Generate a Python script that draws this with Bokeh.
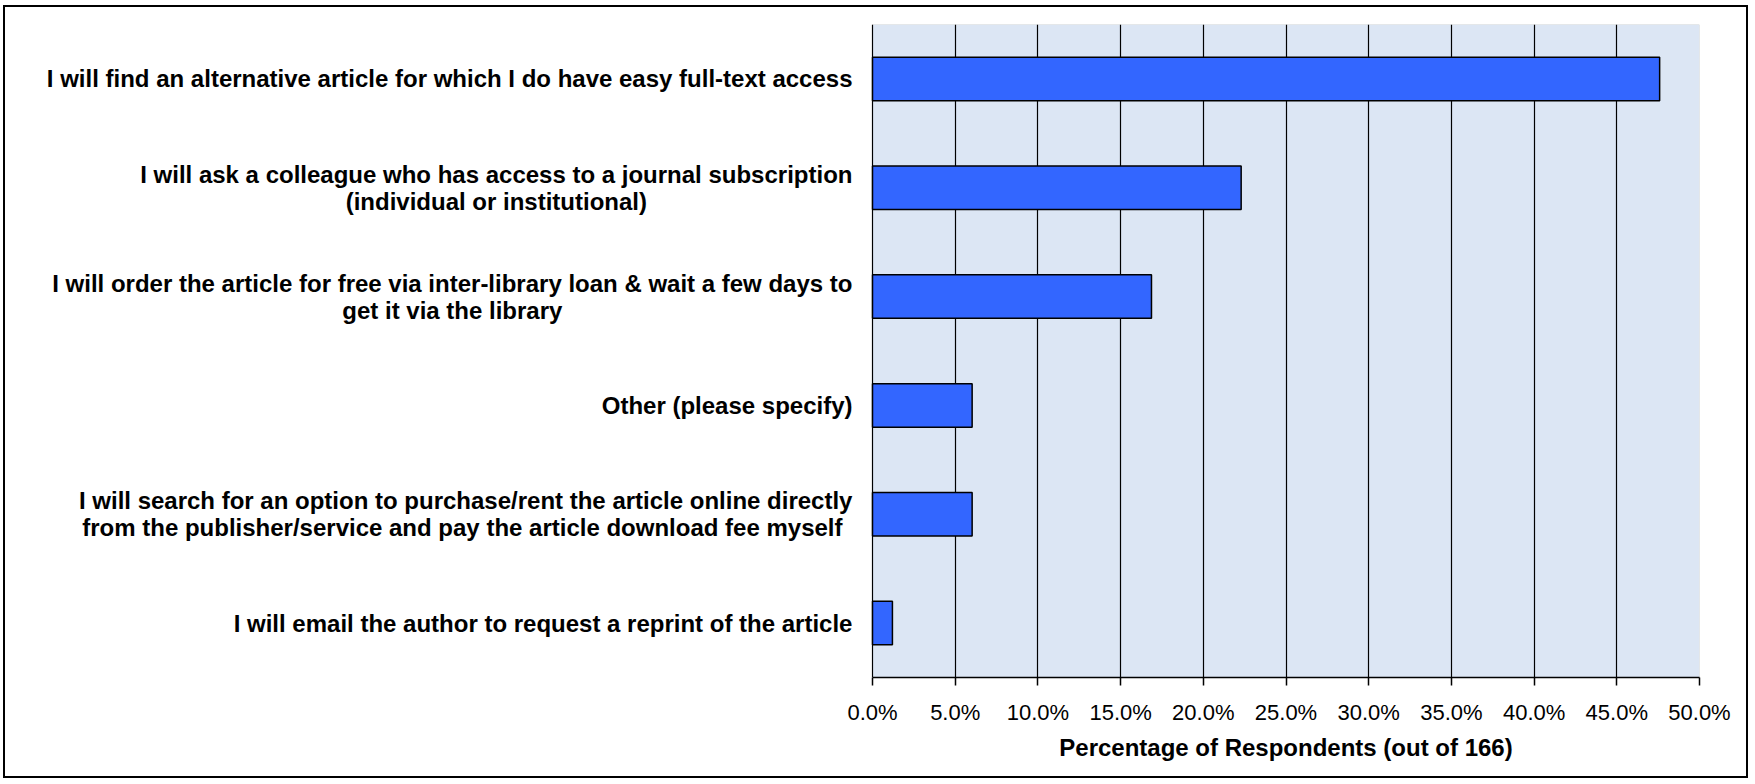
from bokeh.plotting import figure
from bokeh.layouts import column
from bokeh.models import (FactorRange, Range1d, FixedTicker, ColumnDataSource,
                          BoxAnnotation, Title)
from bokeh.core.properties import value
from bokeh.embed import file_html
from bokeh.resources import INLINE

# ---- data (top to bottom as shown) ----
categories = [
    "I will find an alternative article for which I do have easy full-text access",
    "I will ask a colleague who has access to a journal subscription\n(individual or institutional)",
    "I will order the article for free via inter-library loan & wait a few days to\nget it via the library",
    "Other (please specify)",
    "I will search for an option to purchase/rent the article online directly\nfrom the publisher/service and pay the article download fee myself ",
    "I will email the author to request a reprint of the article",
]
counts = [79, 37, 28, 10, 10, 2]
total_respondents = 166
percent = [100.0 * c / total_respondents for c in counts]

x_ticks = [0, 5, 10, 15, 20, 25, 30, 35, 40, 45, 50]
x_tick_labels = ["0.0%", "5.0%", "10.0%", "15.0%", "20.0%", "25.0%",
                 "30.0%", "35.0%", "40.0%", "45.0%", "50.0%"]
x_title = "Percentage of Respondents (out of 166)"
x_max = 50

FONT = "Liberation Sans"
CAT_FONT_PX = 24
TITLE_FONT_PX = 24
LABEL_STANDOFF = 20

# layout (pixels inside the bordered chart area)
FIG_W, FIG_H = 1741, 769
FRAME_LEFT = 5          # canvas x where the frame starts (labels live inside it)
PLOT_LEFT = 867         # canvas x of the 0% line
PLOT_RIGHT = 1694       # canvas x of the 50% line
PLOT_TOP, PLOT_BOTTOM = 17, 670

# advance widths (1/1000 em) of Arial/Liberation Sans Bold, to centre texts
_W = {" ": 278, "!": 333, "&": 722, "(": 333, ")": 333, "-": 333, ".": 278, "/": 278,
      "0": 556, "1": 556, "2": 556, "3": 556, "4": 556, "5": 556, "6": 556,
      "7": 556, "8": 556, "9": 556,
      "a": 556, "b": 611, "c": 556, "d": 611, "e": 556, "f": 333, "g": 611, "h": 611,
      "i": 278, "j": 278, "k": 556, "l": 278, "m": 889, "n": 611, "o": 611, "p": 611,
      "q": 611, "r": 389, "s": 556, "t": 333, "u": 611, "v": 556, "w": 778, "x": 556,
      "y": 556, "z": 500, "I": 278, "O": 778, "P": 667, "R": 722}


def text_width(s, px):
    return sum(_W.get(ch, 556) for ch in s) * px / 1000.0


block_w = [max(text_width(ln, CAT_FONT_PX) for ln in c.split("\n")) for c in categories]
label_xoff = [-(LABEL_STANDOFF + w / 2.0) for w in block_w]

px_per_unit = (PLOT_RIGHT - PLOT_LEFT) / float(x_max)
x_start = -(PLOT_LEFT - FRAME_LEFT) / px_per_unit

source = ColumnDataSource(dict(cat=categories, pct=percent,
                               lx=[0] * len(categories), lxoff=label_xoff))

p = figure(
    width=FIG_W, height=FIG_H,
    y_range=FactorRange(*list(reversed(categories)), range_padding=0),
    x_range=Range1d(x_start, x_max),
    output_backend="svg", toolbar_location=None,
    min_border_left=FRAME_LEFT, min_border_right=FIG_W - PLOT_RIGHT,
    min_border_top=PLOT_TOP, min_border_bottom=FIG_H - PLOT_BOTTOM,
)

p.background_fill_color = "white"
p.border_fill_color = "white"
p.outline_line_color = None

# plot area (0 .. 50 %)
plot_area = BoxAnnotation(left=0, right=x_max, fill_color="#DCE6F4", fill_alpha=1.0,
                          line_color="#808080", line_width=1, level="image")
p.add_layout(plot_area)

# grid
p.ygrid.grid_line_color = None
p.xgrid.grid_line_color = "black"
p.xgrid.grid_line_width = 1.2
p.xgrid.ticker = FixedTicker(ticks=x_ticks)
p.xgrid.bounds = (0, x_max)
p.xgrid.level = "underlay"

p.hbar(y="cat", right="pct", height=0.4, source=source,
       fill_color="#3366FF", line_color="black", line_width=1.5)

# category labels (wrapped lines centred, block right edge at standoff)
p.text(x="lx", y="cat", text="cat", x_offset="lxoff", source=source,
       text_font=value(FONT), text_font_size=value(f"{CAT_FONT_PX}px"),
       text_font_style="bold", text_color="black",
       text_align="center", text_baseline="middle", text_line_height=1.0)

# x axis
xa = p.xaxis[0]
xa.bounds = (0, x_max)
xa.ticker = FixedTicker(ticks=x_ticks)
xa.major_label_overrides = {t: l for t, l in zip(x_ticks, x_tick_labels)}
xa.minor_tick_line_color = None
xa.major_tick_out = 8
xa.major_tick_in = 0
xa.major_tick_line_color = "black"
xa.major_tick_line_width = 1.5
xa.axis_line_color = "black"
xa.axis_line_width = 1.5
xa.major_label_text_font = FONT
xa.major_label_text_font_size = "22px"
xa.major_label_text_color = "black"
xa.major_label_standoff = 14

# x-axis title, centred under the 0..50 % plot area (left-aligned with offset)
plot_centre = (PLOT_LEFT + PLOT_RIGHT) / 2.0
title_w = text_width(x_title, TITLE_FONT_PX)
x_title_box = Title(text=x_title, align="left",
                    offset=plot_centre - title_w / 2.0 - FRAME_LEFT,
                    text_font=FONT, text_font_size=f"{TITLE_FONT_PX}px",
                    text_font_style="bold", text_color="black", standoff=8)
p.add_layout(x_title_box, "below")

p.yaxis.visible = False

# chart-area border around the whole figure
layout = column(p, styles={"border": "2px solid black",
                           "margin-left": "3px", "margin-top": "5px"})

open("out.html", "w").write(file_html(layout, INLINE))
